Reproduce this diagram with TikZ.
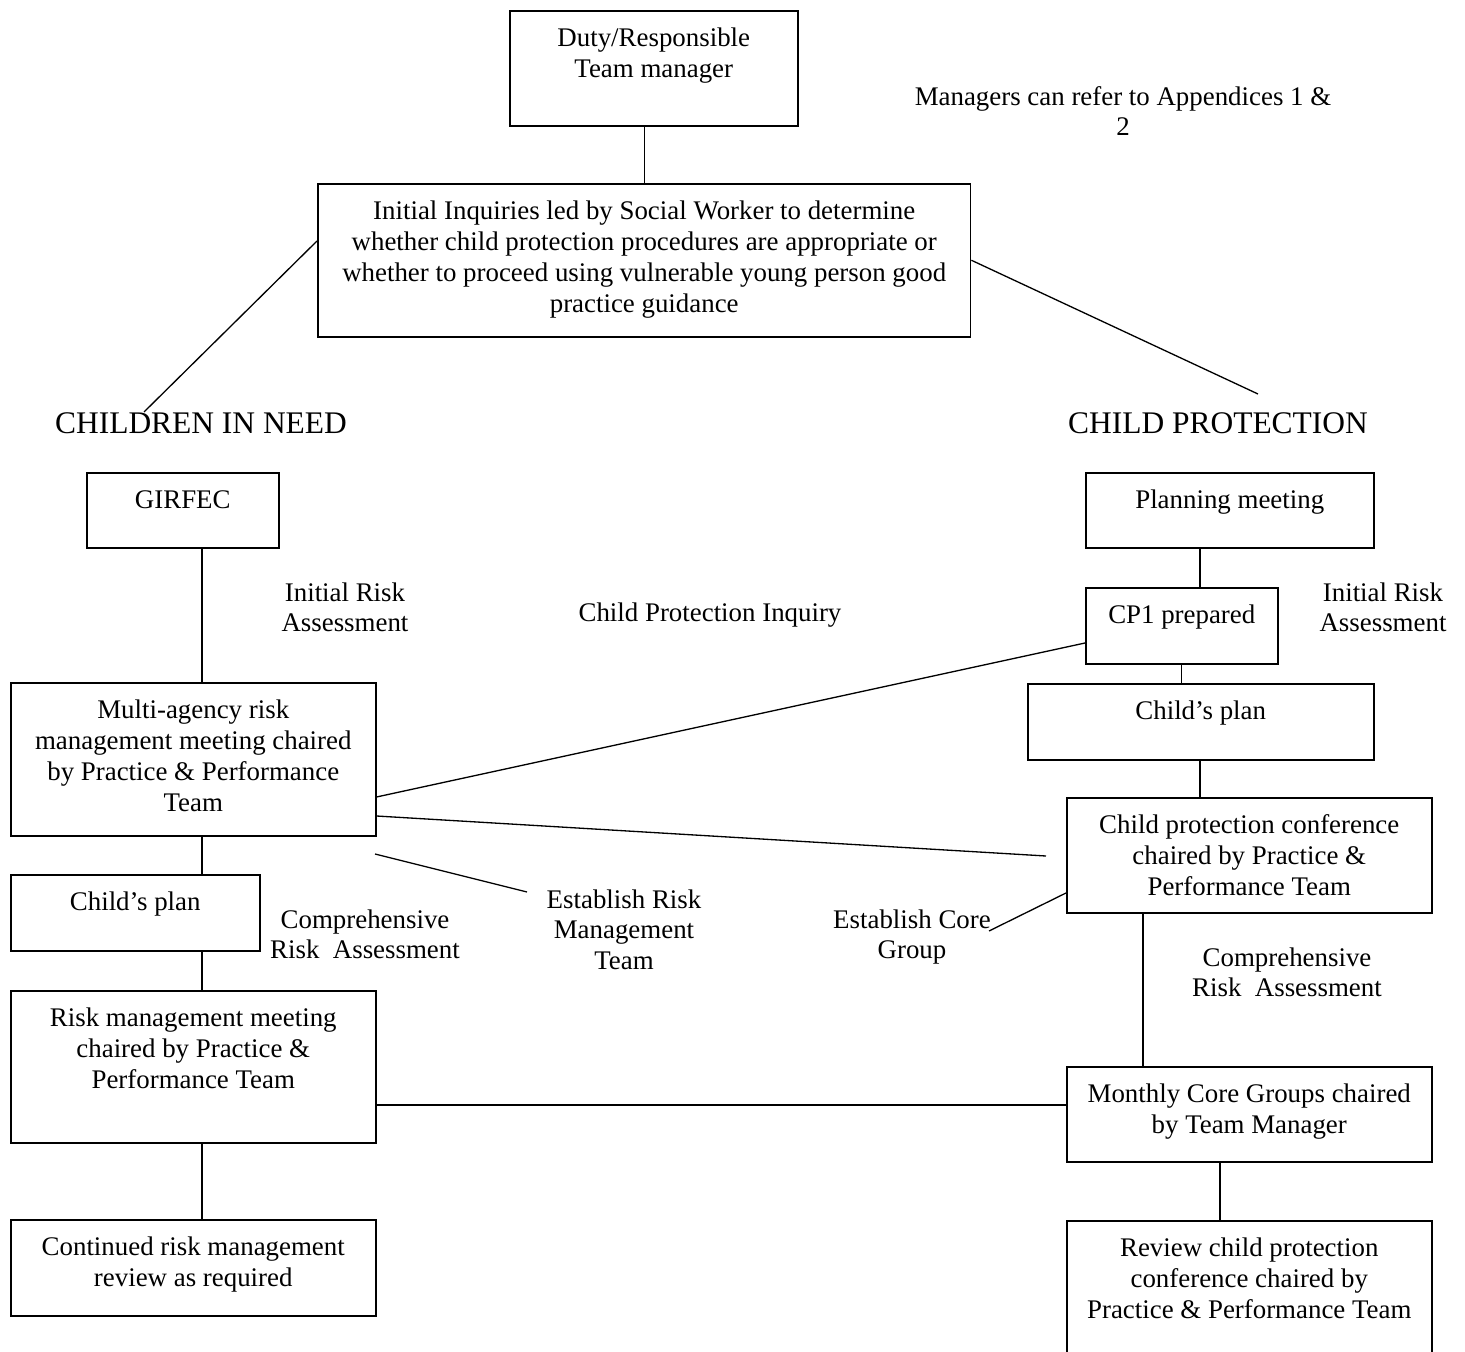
\documentclass[tikz,border=0pt]{standalone}
\usepackage{fontspec}
\setmainfont{Liberation Serif}
\usepackage{tikz}

% box text sits at the top of the box
\newcommand{\boxtext}[3]{\parbox[c][#2][t]{#1}{\centering\vspace*{8pt}\strut #3}}
\newcommand{\freetext}[2]{\parbox[t]{#1}{\centering #2}}

\tikzstyle{block} = [
    rectangle,
    draw=black,
    line width=0.9pt,
    inner sep=0pt,
    anchor=north west
]
\tikzstyle{note} = [
    inner sep=0pt,
    anchor=base
]
\tikzstyle{heading} = [
    inner sep=0pt,
    anchor=base,
    font=\fontsize{17.9}{20.6}\selectfont
]
\tikzstyle{link} = [line width=0.75pt]

\begin{document}
\begin{tikzpicture}[x=0.02cm, y=-0.02cm, font=\fontsize{15.3}{17.6}\selectfont]

\useasboundingbox (0,0) rectangle (1465,1352);

\node (duty) [block] at (509,10)
{\boxtext{5.76cm}{2.30cm}{Duty/Responsible\\Team manager}};

\node (inquiry) [block] at (317,183)
{\boxtext{13.06cm}{3.06cm}{Initial Inquiries led by Social Worker to determine\\whether child protection procedures are appropriate or\\whether to proceed using vulnerable young person good\\practice guidance}};

\node (managers) [note] at (1123,105)
{\freetext{9cm}{Managers can refer to Appendices 1 \&\\2}};

\node (cin) [heading] at (201,433) {CHILDREN IN NEED};
\node (cp) [heading] at (1218,433) {CHILD PROTECTION};

% children in need side
\node (girfec) [block] at (86,472)
{\boxtext{3.84cm}{1.50cm}{GIRFEC}};

\node (multiagency) [block] at (10,682)
{\boxtext{7.30cm}{3.06cm}{Multi-agency risk\\management meeting chaired\\by Practice \& Performance\\Team}};

\node (plancin) [block] at (10,874)
{\boxtext{4.98cm}{1.52cm}{Child’s plan}};

\node (riskmeet) [block] at (10,990)
{\boxtext{7.30cm}{3.04cm}{Risk management meeting\\chaired by Practice \&\\Performance Team}};

\node (continued) [block] at (10,1219)
{\boxtext{7.30cm}{1.92cm}{Continued risk management\\review as required}};

% child protection side
\node (planning) [block] at (1085,472)
{\boxtext{5.76cm}{1.50cm}{Planning meeting}};

\node (cpone) [block] at (1085,587)
{\boxtext{3.84cm}{1.52cm}{CP1 prepared}};

\node (plancp) [block] at (1027,683)
{\boxtext{6.92cm}{1.52cm}{Child’s plan}};

\node (conference) [block] at (1066,797)
{\boxtext{7.30cm}{2.30cm}{Child protection conference\\chaired by Practice \&\\Performance Team}};

\node (coregroups) [block] at (1066,1066)
{\boxtext{7.30cm}{1.90cm}{Monthly Core Groups chaired\\by Team Manager}};

\node (review) [block] at (1066,1220)
{\boxtext{7.30cm}{3.06cm}{Review child protection\\conference chaired by\\Practice \& Performance Team}};

% free labels
\node (iraleft) [note] at (345,601) {\freetext{5cm}{Initial Risk\\Assessment}};
\node (cpinquiry) [note] at (710,621) {\freetext{7cm}{Child Protection Inquiry}};
\node (iraright) [note] at (1383,601) {\freetext{5cm}{Initial Risk\\Assessment}};
\node (craleft) [note] at (365,928) {\freetext{5cm}{Comprehensive\\Risk\ \ Assessment}};
\node (estrisk) [note] at (624,908) {\freetext{5cm}{Establish Risk\\Management\\Team}};
\node (estcore) [note] at (912,928) {\freetext{5cm}{Establish Core\\Group}};
\node (craright) [note] at (1287,966) {\freetext{5cm}{Comprehensive\\Risk\ \ Assessment}};

\coordinate (cinend) at (144,412);
\coordinate (cpend) at (1258,394);
\coordinate (confend) at (1046,856);
\coordinate (estriskA) at (375,854);
\coordinate (estriskB) at (527,892);
\coordinate (estcoreA) at (989,931);

\draw [link] (inquiry.north |- duty.south) -- (inquiry.north);
\draw [link] (inquiry.west |- 0,241) -- (cinend);
\draw [link] (inquiry.east) -- (cpend);

\draw [link] (202,0 |- girfec.south) -- (202,0 |- multiagency.north);
\draw [link] (202,0 |- multiagency.south) -- (202,0 |- plancin.north);
\draw [link] (202,0 |- plancin.south) -- (202,0 |- riskmeet.north);
\draw [link] (202,0 |- riskmeet.south) -- (202,0 |- continued.north);

\draw [link] (1200,0 |- planning.south) -- (1200,0 |- cpone.north);
\draw [link] (cpone.south) -- (cpone.south |- plancp.north);
\draw [link] (1200,0 |- plancp.south) -- (1200,0 |- conference.north);
\draw [link] (1143,0 |- conference.south) -- (1143,0 |- coregroups.north);
\draw [link] (1220,0 |- coregroups.south) -- (1220,0 |- review.north);

\draw [link] (cpone.west |- 0,643) -- (multiagency.east |- 0,797);
\draw [link] (multiagency.east |- 0,816) -- (confend);
\draw [link] (estriskA) -- (estriskB);
\draw [link] (estcoreA) -- (conference.west |- 0,893);
\draw [link] (riskmeet.east |- 0,1105) -- (coregroups.west |- 0,1105);

\end{tikzpicture}
\end{document}
